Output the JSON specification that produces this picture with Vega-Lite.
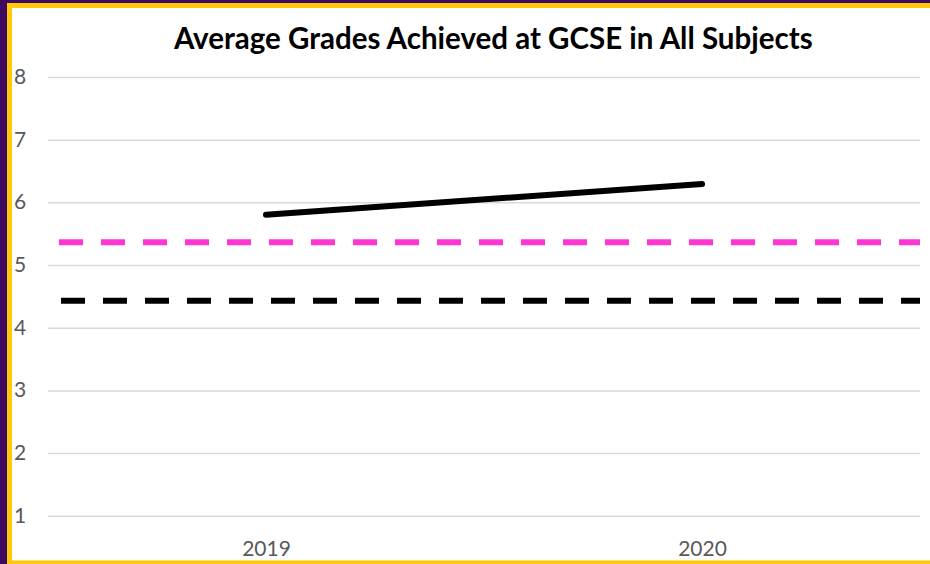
{
  "$schema": "https://vega.github.io/schema/vega-lite/v6.json",
  "autosize": "none",
  "width": 923.5,
  "height": 557.5,
  "padding": {"left": 9.5, "top": 5.5, "right": -3, "bottom": 1},
  "background": "#3C0A5E",
  "config": {
    "view": {"fill": "white", "stroke": "#FFC90A", "strokeWidth": 5},
    "font": "Lato"
  },
  "title": {
    "text": "Average Grades Achieved at GCSE in All Subjects",
    "font": "Lato",
    "fontSize": 29.5,
    "fontWeight": "bold",
    "color": "#000000",
    "anchor": "middle",
    "baseline": "alphabetic",
    "offset": -73,
    "dx": 22
  },
  "datasets": {
    "grid": [{"g": 1}, {"g": 2}, {"g": 3}, {"g": 4}, {"g": 5}, {"g": 6}, {"g": 7}, {"g": 8}],
    "school": [{"year": 2019, "grade": 5.81}, {"year": 2020, "grade": 6.3}],
    "refs": [
      {"series": "Comparison A", "grade": 5.37},
      {"series": "Comparison B", "grade": 4.44}
    ]
  },
  "layer": [
    {
      "data": {"name": "grid"},
      "mark": {"type": "rule", "color": "#D9D9D9", "strokeWidth": 1.5},
      "encoding": {
        "x": {"datum": 2018.5, "type": "quantitative",
          "scale": {"domain": [2018.4117, 2020.5298], "nice": false, "zero": false},
          "axis": {"values": [2019, 2020], "format": "d", "title": null, "domain": false, "ticks": false, "tickSize": 0, "grid": false,
            "labelFont": "Lato", "labelFontSize": 21, "labelColor": "#595959", "labelBaseline": "alphabetic", "labelPadding": -8}},
        "x2": {"datum": 2020.5},
        "y": {"field": "g", "type": "quantitative",
          "scale": {"domain": [0.255, 9.148], "nice": false, "zero": false},
          "axis": {"values": [1, 2, 3, 4, 5, 6, 7, 8], "format": "d", "title": null, "domain": false, "ticks": false, "tickSize": 0, "grid": false,
            "labelFont": "Lato", "labelFontSize": 21, "labelColor": "#595959", "labelAlign": "left", "labelBaseline": "middle", "labelPadding": -4}}
      }
    },
    {
      "data": {"name": "refs"},
      "transform": [{"filter": "datum.series == 'Comparison A'"}],
      "mark": {"type": "rule", "strokeWidth": 6, "strokeDash": [24, 18], "strokeDashOffset": 31, "strokeCap": "butt"},
      "encoding": {
        "x": {"datum": 2018.5, "type": "quantitative"},
        "x2": {"datum": 2020.5},
        "y": {"field": "grade", "type": "quantitative"},
        "color": {"value": "#FF37D2"}
      }
    },
    {
      "data": {"name": "refs"},
      "transform": [{"filter": "datum.series == 'Comparison B'"}],
      "mark": {"type": "rule", "strokeWidth": 6, "strokeDash": [24, 18], "strokeDashOffset": 29, "strokeCap": "butt"},
      "encoding": {
        "x": {"datum": 2018.5, "type": "quantitative"},
        "x2": {"datum": 2020.5},
        "y": {"field": "grade", "type": "quantitative"},
        "color": {"value": "#000000"}
      }
    },
    {
      "data": {"name": "school"},
      "mark": {"type": "line", "strokeWidth": 6, "strokeCap": "round", "color": "#000000"},
      "encoding": {
        "x": {"field": "year", "type": "quantitative"},
        "y": {"field": "grade", "type": "quantitative"}
      }
    }
  ]
}
